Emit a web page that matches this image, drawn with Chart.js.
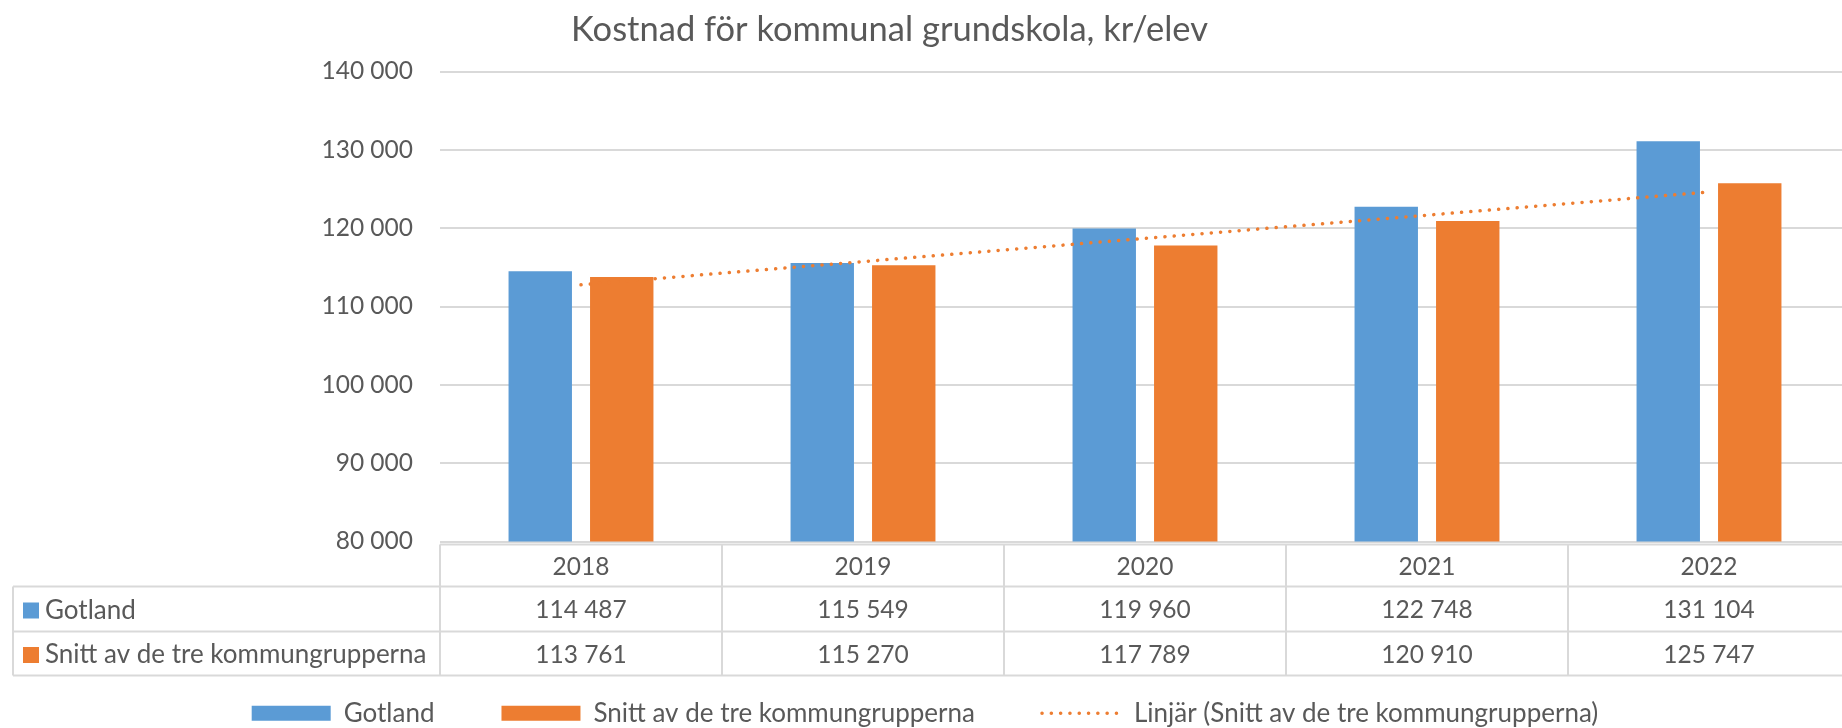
<!DOCTYPE html>
<html>
<head>
<meta charset="utf-8">
<script src="https://cdn.jsdelivr.net/npm/chart.js@4.4.1/dist/chart.umd.min.js"></script>
<style>
html, body { margin: 0; padding: 0; background: #fff; overflow: hidden; }
/* the original chart is cropped a few pixels at the right edge */
#wrap { width: 1850px; height: 728px; position: relative; }
</style>
</head>
<body>
<div id="wrap"><canvas id="myChart"></canvas></div>
<script>
const chartTitle = "Kostnad för kommunal grundskola, kr/elev";
const years = ["2018", "2019", "2020", "2021", "2022"];
const gotland = [114487, 115549, 119960, 122748, 131104];
const snitt = [113761, 115270, 117789, 120910, 125747];
const seriesNames = ["Gotland", "Snitt av de tre kommungrupperna"];
const trendName = "Linjär (Snitt av de tre kommungrupperna)";
const yMin = 80000, yMax = 140000, yStep = 10000;

const BLUE = '#5B9BD5', ORANGE = '#ED7D31', GRID = '#D9D9D9', TEXT = '#595959';
const FONT = 'Lato';
const FS_NUM = 24.5;   // numbers (ticks, table values)
const FS_TXT = 26;     // words (row labels, legend)

Chart.defaults.font.family = FONT;
Chart.defaults.font.size = FS_NUM;
Chart.defaults.color = TEXT;

function fmt(v) {
    return String(Math.round(v)).replace(/\B(?=(\d{3})+(?!\d))/g, ' ');
}

// least squares line over x = 1..n, like Excel's linear trendline
function linearTrend(values) {
    const n = values.length;
    const mx = (n + 1) / 2;
    const my = values.reduce((a, b) => a + b, 0) / n;
    let sxy = 0, sxx = 0;
    values.forEach((v, i) => {
        sxy += (i + 1 - mx) * (v - my);
        sxx += (i + 1 - mx) ** 2;
    });
    const k = sxy / sxx;
    return values.map((v, i) => my + k * (i + 1 - mx));
}

// data table under the plot + chart title
const tablePlugin = {
    id: 'dataTable',
    afterDraw(chart) {
        const {ctx, chartArea, scales: {x}} = chart;
        const tableLeft = 13;
        const b = chartArea.bottom;
        const r0 = b + 3, r1 = b + 45, r2 = b + 90, r3 = b + 134;
        const colW = x.width / years.length;
        ctx.save();
        ctx.strokeStyle = GRID;
        ctx.lineWidth = 2;
        ctx.beginPath();
        ctx.moveTo(chartArea.left, r0); ctx.lineTo(chartArea.right, r0);
        [r1, r2, r3].forEach(y => { ctx.moveTo(tableLeft, y); ctx.lineTo(chartArea.right, y); });
        ctx.moveTo(tableLeft, r1); ctx.lineTo(tableLeft, r3);
        for (let k = 0; k <= years.length; k++) {
            const xx = Math.min(chartArea.left + k * colW, chart.width - 1);
            ctx.moveTo(xx, r0); ctx.lineTo(xx, r3);
        }
        ctx.stroke();

        ctx.textBaseline = 'middle';
        const rows = [[seriesNames[0], BLUE, gotland, r1, r2], [seriesNames[1], ORANGE, snitt, r2, r3]];
        rows.forEach(([name, color, vals, yTop, yBot]) => {
            const cy = (yTop + yBot) / 2 + 1.5;
            ctx.fillStyle = color;
            ctx.fillRect(23, cy - 8, 16, 16);
            ctx.fillStyle = TEXT;
            ctx.textAlign = 'left';
            ctx.font = `${FS_TXT}px ${FONT}`;
            ctx.fillText(name, 45, cy);
            ctx.textAlign = 'center';
            ctx.font = `${FS_NUM}px ${FONT}`;
            vals.forEach((v, i) => ctx.fillText(fmt(v), x.getPixelForValue(i), cy));
        });

        ctx.font = `34.5px ${FONT}`;
        ctx.textAlign = 'center';
        ctx.fillText(chartTitle, 889.5, 29.5);
        ctx.restore();
    }
};

const ctx = document.getElementById('myChart');
new Chart(ctx, {
    type: 'bar',
    data: {
        labels: years,
        datasets: [
            {
                label: seriesNames[0],
                data: gotland,
                backgroundColor: BLUE,
                borderWidth: 0,
                pointStyle: 'rect',
                order: 1,
            },
            {
                label: seriesNames[1],
                data: snitt,
                backgroundColor: ORANGE,
                borderWidth: 0,
                pointStyle: 'rect',
                order: 2,
            },
            {
                type: 'line',
                label: trendName,
                data: linearTrend(snitt),
                borderColor: ORANGE,
                backgroundColor: ORANGE,
                borderWidth: 3.5,
                borderDash: [0.1, 9.2],
                borderCapStyle: 'round',
                pointRadius: 0,
                pointStyle: 'line',
                fill: false,
                order: 0,
            },
        ]
    },
    options: {
        responsive: true,
        maintainAspectRatio: false,
        animation: false,
        categoryPercentage: 0.578,
        barPercentage: 0.778,
        layout: {padding: {top: 71.5, right: 0, bottom: -8.25, left: 0}},
        plugins: {
            title: {display: false},
            tooltip: {enabled: false},
            legend: {
                position: 'bottom',
                labels: {
                    usePointStyle: true,
                    pointStyleWidth: 79,
                    boxHeight: 15,
                    padding: 67,
                    color: TEXT,
                    font: {size: FS_TXT, family: FONT},
                    generateLabels: chart => {
                        const items = Chart.defaults.plugins.legend.labels.generateLabels(chart);
                        items.forEach(it => {
                            const ds = chart.data.datasets[it.datasetIndex];
                            if (ds.type === 'line') {
                                it.lineDash = ds.borderDash;
                                it.lineWidth = ds.borderWidth;
                                it.lineCap = ds.borderCapStyle;
                                it.strokeStyle = ds.borderColor;
                            }
                        });
                        return items.sort((a, b) => a.datasetIndex - b.datasetIndex);
                    }
                }
            }
        },
        scales: {
            x: {
                grid: {display: false, drawTicks: false},
                border: {display: false},
                ticks: {padding: 10.5, color: TEXT},
                afterFit: s => { s.height = 91.75; }
            },
            y: {
                min: yMin,
                max: yMax,
                grid: {color: GRID, lineWidth: 2, drawTicks: false},
                border: {display: false},
                ticks: {stepSize: yStep, padding: 27, color: TEXT, callback: v => fmt(v)},
                afterFit: s => { s.width = 440; }
            }
        }
    },
    plugins: [tablePlugin]
});
</script>
</body>
</html>
